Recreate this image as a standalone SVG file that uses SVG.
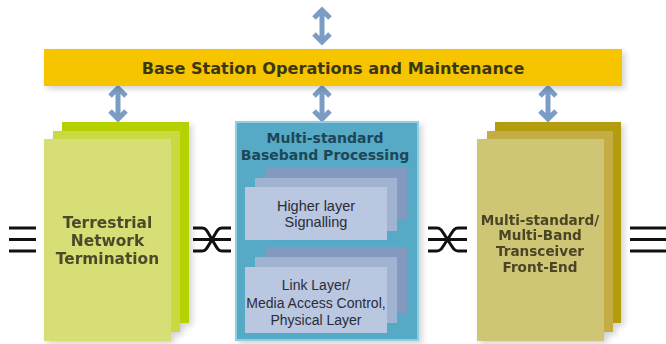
<svg xmlns="http://www.w3.org/2000/svg" width="666" height="344" viewBox="0 0 666 344">
<defs>
<filter id="sh" x="-10%" y="-10%" width="125%" height="125%">
<feGaussianBlur in="SourceAlpha" stdDeviation="3"/>
<feOffset dx="3" dy="3"/>
<feComponentTransfer><feFuncA type="linear" slope="0.18"/></feComponentTransfer>
<feMerge><feMergeNode/><feMergeNode in="SourceGraphic"/></feMerge>
</filter>
</defs>
<style>
.arr{fill:none;stroke:#7b9dc5;stroke-width:5;stroke-linejoin:miter}
.sym{fill:none;stroke:#111;stroke-width:3}
.t{font-family:"Liberation Sans",Arial,sans-serif;text-anchor:middle}
.b{font-family:"DejaVu Sans","Liberation Sans",sans-serif;font-weight:bold;text-anchor:middle}
</style>
<rect width="666" height="344" fill="#fff"/>
<g id="connectors">
<path class="arr" d="M322,11V41M314,18L322,10L330,18M314,34L322,42L330,34"/>
<path class="arr" d="M118,89V118M110,96L118,88L126,96M110,111L118,119L126,111"/>
<path class="arr" d="M322,89V118M314,96L322,88L330,96M314,111L322,119L330,111"/>
<path class="arr" d="M548,89V118M540,96L548,88L556,96M540,111L548,119L556,111"/>
<path class="sym" d="M9,228H36M9,239.5H36M9,251H36"/>
<path class="sym" d="M630,228H666M630,239.5H666M630,251H666"/>
<path class="sym" d="M193,228H202C206,228 207,231 212,239.5C217,248 218,251 222,251H231M193,251H202C206,251 207,248 212,239.5C217,231 218,228 222,228H231M193,239.5H231"/>
<path class="sym" d="M428,228H437C441,228 442,231 447.5,239.5C453,248 454,251 458,251H467M428,251H437C441,251 442,248 447.5,239.5C453,231 454,228 458,228H467M428,239.5H467"/>
</g>
<g id="oam">
<rect x="44" y="49" width="578" height="37" fill="#f6c500" filter="url(#sh)"/>
<text class="b" x="333" y="74" font-size="16.1" fill="#3b3614">Base Station Operations and Maintenance</text>
</g>
<g id="terrestrial" filter="url(#sh)">
<rect x="62" y="122" width="127" height="201" fill="#b6d100"/>
<rect x="53" y="131" width="127" height="201" fill="#c8d943"/>
<rect x="44" y="139" width="127" height="202" fill="#d6de75"/>
<text class="b" font-size="15.4" fill="#4b4c2c"><tspan x="107.5" y="228">Terrestrial</tspan><tspan x="107.5" y="246">Network</tspan><tspan x="107.5" y="264">Termination</tspan></text>
</g>
<g id="baseband">
<rect x="236" y="122" width="182" height="218" fill="#57aac6" stroke="#92cde0" stroke-width="2" filter="url(#sh)"/>
<text class="b" font-size="14" fill="#1d4657"><tspan x="325" y="143">Multi-standard</tspan><tspan x="325" y="160">Baseband Processing</tspan></text>
</g>
<g id="higher-layer">
<rect x="265" y="168" width="142" height="52" fill="#8499bf"/>
<rect x="255" y="178" width="142" height="53" fill="#a0b3d0"/>
<rect x="245" y="187" width="142" height="53" fill="#b9c7e1"/>
<text class="t" font-size="14.5" fill="#2b2b38"><tspan x="316" y="211">Higher layer</tspan><tspan x="316" y="227">Signalling</tspan></text>
</g>
<g id="link-layer">
<rect x="265" y="247" width="142" height="66" fill="#8499bf"/>
<rect x="255" y="257" width="142" height="66" fill="#a0b3d0"/>
<rect x="245" y="267" width="142" height="66" fill="#b9c7e1"/>
<text class="t" font-size="14" fill="#2b2b38"><tspan x="316" y="290">Link Layer/</tspan><tspan x="316" y="308">Media Access Control,</tspan><tspan x="316" y="325">Physical Layer</tspan></text>
</g>
<g id="transceiver" filter="url(#sh)">
<rect x="495" y="122" width="126" height="201" fill="#b39c0f"/>
<rect x="487" y="131" width="126" height="201" fill="#c4ad44"/>
<rect x="477" y="139" width="127" height="202" fill="#cfc674"/>
<text class="b" font-size="13.6" fill="#4a4425"><tspan x="540" y="225">Multi-standard/</tspan><tspan x="540" y="240">Multi-Band</tspan><tspan x="540" y="256">Transceiver</tspan><tspan x="540" y="272">Front-End</tspan></text>
</g>
</svg>
